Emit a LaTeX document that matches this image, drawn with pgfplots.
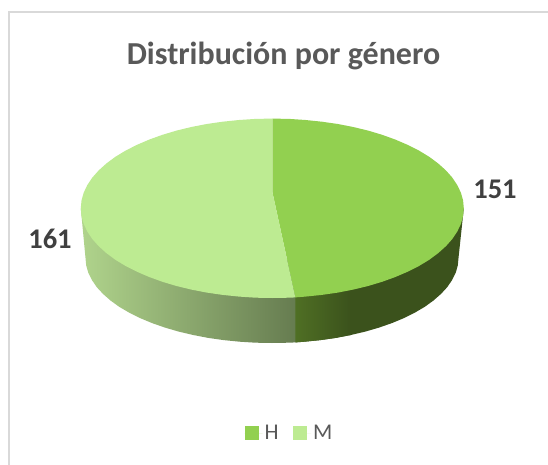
\documentclass[border=0pt]{standalone}
\usepackage{fontspec}
\setmainfont{Carlito}
\usepackage{pgfplots}
\pgfplotsset{compat=1.18}
\definecolor{hTop}{HTML}{92D050}
\definecolor{mTop}{HTML}{BDEB92}
\definecolor{hDark}{HTML}{3B521C}
\definecolor{hEdge}{HTML}{4F6F24}
\definecolor{mLeft}{HTML}{B0D48C}
\definecolor{mRight}{HTML}{667C50}
\definecolor{txt}{HTML}{595959}
\definecolor{lbl}{HTML}{404040}
\definecolor{frame}{HTML}{D9D9D9}
\begin{document}
\begin{tikzpicture}
\begin{axis}[
  scale only axis, width=548pt, height=465pt,
  xmin=0, xmax=548, ymin=0, ymax=465, y dir=reverse,
  hide axis, axis background/.style={fill=white},
  legend style={at={(axis cs:289.5,433)}, anchor=center, draw=none, fill=none,
    font=\fontsize{22.5}{24}\selectfont\color{txt}, legend columns=2,
    /tikz/every even column/.append style={column sep=12.5pt},
    inner sep=0pt, cells={anchor=west}},
  legend image code/.code={\fill[#1] (0pt,-7pt) rectangle (14pt,7pt); \path (0pt,0pt) -- (18pt,0pt);},
]
% frame
\addplot[forget plot, frame, line width=2pt, no markers] coordinates {(9,465) (9,12) (548,12)};
% side walls
\addplot[forget plot, draw=none, fill=hDark, no markers] coordinates {
(295.3,280) (463.8,208.3) (458.5,258.0) (457.8,265.4) (455.7,272.8) (452.1,280.0) (447.3,287.1) (441.0,293.9)
(433.5,300.5) (424.8,306.8) (414.9,312.6) (403.9,318.1) (391.9,323.1) (379.0,327.6) (365.3,331.6)
(350.8,335.0) (335.8,337.9) (320.3,340.1) (304.4,341.7) (295.3,342.4)} -- cycle;
\addplot[forget plot, draw=none, left color=hEdge, right color=hDark, no markers] coordinates {
(295.3,280) (350.8,280) (350.8,335.0) (335.8,337.9) (320.3,340.1) (304.4,341.7) (295.3,342.4)} -- cycle;
\addplot[forget plot, draw=none, left color=mLeft, right color=mRight, no markers] coordinates {
(295.3,260) (80.8,208.3) (85.5,258) (86.2,265.4) (88.3,272.8) (91.9,280.0) (96.7,287.1) (103.0,293.9)
(110.5,300.5) (119.2,306.8) (129.1,312.6) (140.1,318.1) (152.1,323.1) (165.0,327.6) (178.7,331.6)
(193.2,335.0) (208.2,337.9) (223.7,340.1) (239.6,341.7) (255.7,342.7) (272,343) (288.3,342.7) (295.3,342.4)} -- cycle;
% top faces
\addplot[draw=none, fill=hTop, no markers] coordinates {
(272.3,191.7) (272.3,118.6) (289.0,118.9) (305.5,120.0) (321.9,121.7) (337.8,124.0) (353.2,127.0) (368.1,130.6)
(382.1,134.8) (395.4,139.6) (407.7,144.9) (419.0,150.6) (429.2,156.8) (438.1,163.4) (445.9,170.4)
(452.3,177.6) (457.3,185.1) (460.9,192.7) (463.1,200.5) (463.8,208.3) (463.1,216.1) (460.9,223.9)
(457.3,231.5) (452.3,239.0) (445.9,246.2) (438.1,253.2) (429.2,259.8) (419.0,266.0) (407.7,271.7)
(395.4,277.0) (382.1,281.8) (368.1,286.0) (353.2,289.6) (337.8,292.6) (321.9,294.9) (305.5,296.6)
(295.3,297.4)} -- cycle;
\addlegendentry{H}
\addplot[draw=none, fill=mTop, no markers] coordinates {
(272.3,191.7) (295.3,297.4) (289.0,297.7) (272.3,298.0) (255.6,297.7) (239.1,296.6) (222.7,294.9) (206.8,292.6)
(191.4,289.6) (176.5,286.0) (162.5,281.8) (149.2,277.0) (136.9,271.7) (125.6,266.0) (115.4,259.8)
(106.5,253.2) (98.7,246.2) (92.3,239.0) (87.3,231.5) (83.7,223.9) (81.5,216.1) (80.8,208.3) (81.5,200.5)
(83.7,192.7) (87.3,185.1) (92.3,177.6) (98.7,170.4) (106.5,163.4) (115.4,156.8) (125.6,150.6)
(136.9,144.9) (149.2,139.6) (162.5,134.8) (176.5,130.6) (191.4,127.0) (206.8,124.0) (222.7,121.7)
(239.1,120.0) (255.6,118.9) (272.3,118.6)} -- cycle;
\addlegendentry{M}
% texts
\node[anchor=base, text=txt, font=\fontsize{32}{35}\selectfont\bfseries] at (axis cs:283.5,65) {Distribución por género};
\node[anchor=base, text=lbl, font=\fontsize{28.5}{30}\selectfont\bfseries] at (axis cs:495,198) {151};
\node[anchor=base, text=lbl, font=\fontsize{28.5}{30}\selectfont\bfseries] at (axis cs:50,248) {161};
\end{axis}
\end{tikzpicture}
\end{document}
